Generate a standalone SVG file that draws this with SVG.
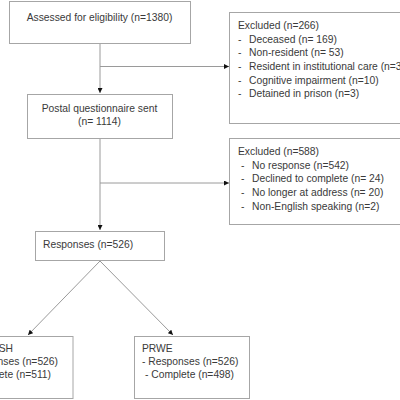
<svg xmlns="http://www.w3.org/2000/svg" width="400" height="400" viewBox="0 0 400 400">
<defs>
<style>
.box{fill:#fff;stroke:#a6a6a6;stroke-width:1}
.ln{fill:none;stroke:#9a9a9a;stroke-width:1}
text{font-family:"Liberation Sans",Arial,sans-serif;font-size:10.3px;fill:#3a3a3a}
.c{text-anchor:middle}
.e{text-anchor:end}
</style>
<marker id="ah" viewBox="0 0 10 10" refX="10" refY="5" markerWidth="5" markerHeight="5" orient="auto" markerUnits="userSpaceOnUse">
<path d="M0,0L10,5L0,10z" fill="#111"/>
</marker>
</defs>
<rect width="400" height="400" fill="#fff"/>
<g id="connectors">
<line class="ln" x1="100" y1="43" x2="100" y2="93" marker-end="url(#ah)"/>
<line class="ln" x1="100" y1="66.5" x2="229" y2="66.5" marker-end="url(#ah)"/>
<line class="ln" x1="100" y1="138" x2="100" y2="230" marker-end="url(#ah)"/>
<line class="ln" x1="100" y1="183" x2="229" y2="183" marker-end="url(#ah)"/>
<line class="ln" x1="100" y1="261" x2="28" y2="335" marker-end="url(#ah)"/>
<line class="ln" x1="100" y1="261" x2="173" y2="335" marker-end="url(#ah)"/>
</g>
<g id="assessed">
<rect class="box" x="9.5" y="1.5" width="181" height="42"/>
<text class="c" x="99.5" y="21">Assessed for eligibility (n=1380)</text>
</g>
<g id="excluded1">
<rect class="box" x="229.5" y="12.5" width="180" height="111"/>
<text x="238" y="28.5">Excluded (n=266)</text>
<text x="238" y="42.5">-</text><text x="249" y="42.5">Deceased (n= 169)</text>
<text x="238" y="56">-</text><text x="249" y="56">Non-resident (n= 53)</text>
<text x="238" y="70">-</text><text x="249" y="70">Resident in institutional care (n=31)</text>
<text x="238" y="83.5">-</text><text x="249" y="83.5">Cognitive impairment (n=10)</text>
<text x="238" y="97">-</text><text x="249" y="97">Detained in prison (n=3)</text>
</g>
<g id="postal">
<rect class="box" x="27.5" y="94.5" width="145" height="44"/>
<text class="c" x="99.5" y="112">Postal questionnaire sent</text>
<text class="c" x="99.5" y="125">(n= 1114)</text>
</g>
<g id="excluded2">
<rect class="box" x="229.5" y="138.5" width="180" height="86"/>
<text x="238" y="155">Excluded (n=588)</text>
<text x="241" y="168.5">-</text><text x="252" y="168.5">No response (n=542)</text>
<text x="241" y="182">-</text><text x="252" y="182">Declined to complete (n= 24)</text>
<text x="241" y="196">-</text><text x="252" y="196">No longer at address (n= 20)</text>
<text x="241" y="209.5">-</text><text x="252" y="209.5">Non-English speaking (n=2)</text>
</g>
<g id="responses">
<rect class="box" x="35.5" y="231.5" width="129" height="29"/>
<text x="43" y="248">Responses (n=526)</text>
</g>
<g id="dash">
<rect class="box" x="-42.5" y="336.5" width="115.5" height="62"/>
<text class="e" x="13" y="352">DASH</text>
<text class="e" x="58" y="365">- Responses (n=526)</text>
<text class="e" x="51" y="378">- Complete (n=511)</text>
</g>
<g id="prwe">
<rect class="box" x="134.5" y="336.5" width="115" height="62"/>
<text x="142" y="352">PRWE</text>
<text x="142" y="365">- Responses (n=526)</text>
<text x="145" y="378">- Complete (n=498)</text>
</g>
</svg>
